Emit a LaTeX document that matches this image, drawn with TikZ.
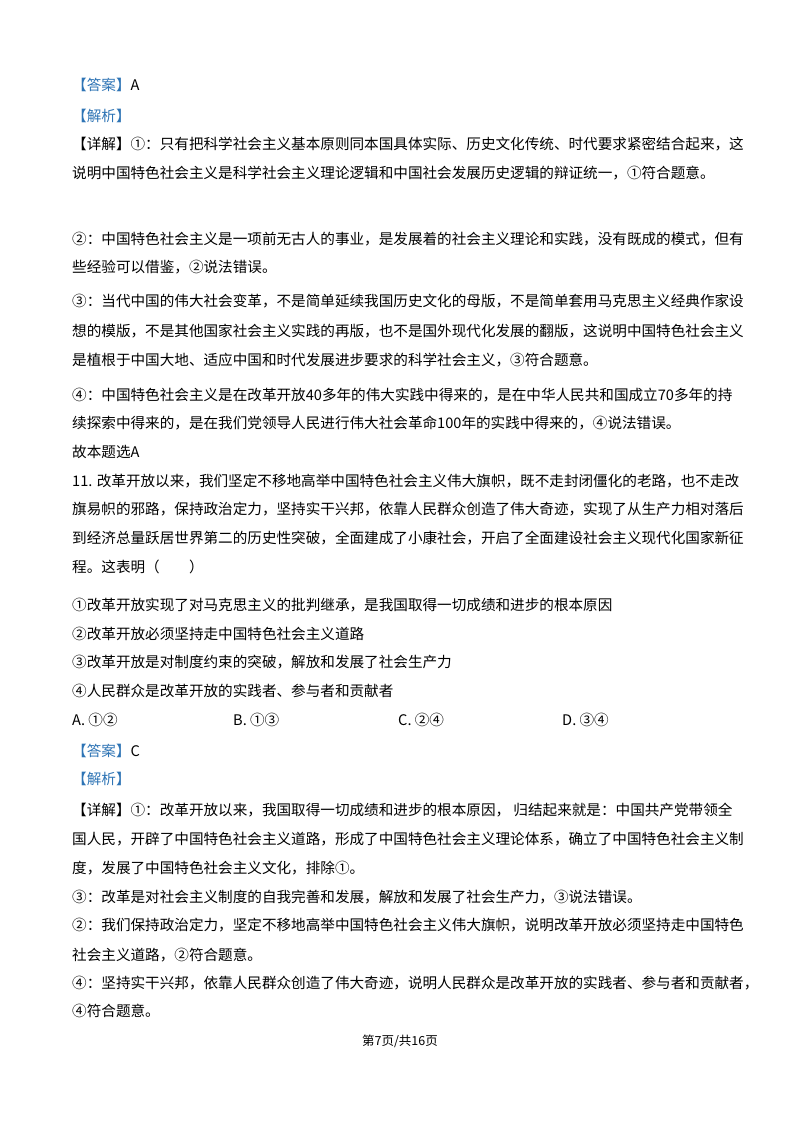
\documentclass[tikz,border=0pt]{standalone}
\usepackage{fontspec}
\setmainfont{Noto Sans CJK SC}
\definecolor{hblue}{RGB}{46,116,181}
\begin{document}
\begin{tikzpicture}[x=1pt,y=-1pt,
  ln/.style={anchor=base west,inner sep=0pt,font=\fontsize{14.6}{16}\selectfont}]
\useasboundingbox (0,0) rectangle (800,1132);
\fill[white] (0,0) rectangle (800,1132);
\node[ln] (l1) at (72,90) {\textcolor{hblue}{【答案】}A};
\node[ln] (l2) at (72,121) {\textcolor{hblue}{【解析】}};
\node[ln] (l3) at (72,149) {【详解】①：只有把科学社会主义基本原则同本国具体实际、历史文化传统、时代要求紧密结合起来，这};
\node[ln] (l4) at (72,178) {说明中国特色社会主义是科学社会主义理论逻辑和中国社会发展历史逻辑的辩证统一，①符合题意。};
\node[ln] (l5) at (72,244) {②：中国特色社会主义是一项前无古人的事业，是发展着的社会主义理论和实践，没有既成的模式，但有};
\node[ln] (l6) at (72,272) {些经验可以借鉴，②说法错误。};
\node[ln] (l7) at (72,306) {③：当代中国的伟大社会变革，不是简单延续我国历史文化的母版，不是简单套用马克思主义经典作家设};
\node[ln] (l8) at (72,336) {想的模版，不是其他国家社会主义实践的再版，也不是国外现代化发展的翻版，这说明中国特色社会主义};
\node[ln] (l9) at (72,365) {是植根于中国大地、适应中国和时代发展进步要求的科学社会主义，③符合题意。};
\node[ln] (l10) at (72,400) {④：中国特色社会主义是在改革开放40多年的伟大实践中得来的，是在中华人民共和国成立70多年的持};
\node[ln] (l11) at (72,428) {续探索中得来的，是在我们党领导人民进行伟大社会革命100年的实践中得来的，④说法错误。};
\node[ln] (l12) at (72,457) {故本题选A};
\node[ln] (l13) at (72,486) {11. 改革开放以来，我们坚定不移地高举中国特色社会主义伟大旗帜，既不走封闭僵化的老路，也不走改};
\node[ln] (l14) at (72,514) {旗易帜的邪路，保持政治定力，坚持实干兴邦，依靠人民群众创造了伟大奇迹，实现了从生产力相对落后};
\node[ln] (l15) at (72,543) {到经济总量跃居世界第二的历史性突破，全面建成了小康社会，开启了全面建设社会主义现代化国家新征};
\node[ln] (l16) at (72,572) {程。这表明（\quad\quad）};
\node[ln] (l17) at (72,610) {①改革开放实现了对马克思主义的批判继承，是我国取得一切成绩和进步的根本原因};
\node[ln] (l18) at (72,639) {②改革开放必须坚持走中国特色社会主义道路};
\node[ln] (l19) at (72,667) {③改革开放是对制度约束的突破，解放和发展了社会生产力};
\node[ln] (l20) at (72,696) {④人民群众是改革开放的实践者、参与者和贡献者};
\node[ln] (oa) at (72,725) {A. ①②};
\node[ln] (ob) at (233,725) {B. ①③};
\node[ln] (oc) at (398,725) {C. ②④};
\node[ln] (od) at (562,725) {D. ③④};
\node[ln] (l21) at (72,756) {\textcolor{hblue}{【答案】}C};
\node[ln] (l22) at (72,784) {\textcolor{hblue}{【解析】}};
\node[ln] (l23) at (72,815) {【详解】①：改革开放以来，我国取得一切成绩和进步的根本原因，\ 归结起来就是：中国共产党带领全};
\node[ln] (l24) at (72,844) {国人民，开辟了中国特色社会主义道路，形成了中国特色社会主义理论体系，确立了中国特色社会主义制};
\node[ln] (l25) at (72,873) {度，发展了中国特色社会主义文化，排除①。};
\node[ln] (l26) at (72,902) {③：改革是对社会主义制度的自我完善和发展，解放和发展了社会生产力，③说法错误。};
\node[ln] (l27) at (72,930) {②：我们保持政治定力，坚定不移地高举中国特色社会主义伟大旗帜，说明改革开放必须坚持走中国特色};
\node[ln] (l28) at (72,960) {社会主义道路，②符合题意。};
\node[ln] (l29) at (72,988) {④：坚持实干兴邦，依靠人民群众创造了伟大奇迹，说明人民群众是改革开放的实践者、参与者和贡献者，};
\node[ln] (l30) at (72,1016) {④符合题意。};
\node[anchor=base,inner sep=0pt,font=\fontsize{12.5}{14}\selectfont] (ft) at (400,1045) {第7页/共16页};
\end{tikzpicture}
\end{document}
